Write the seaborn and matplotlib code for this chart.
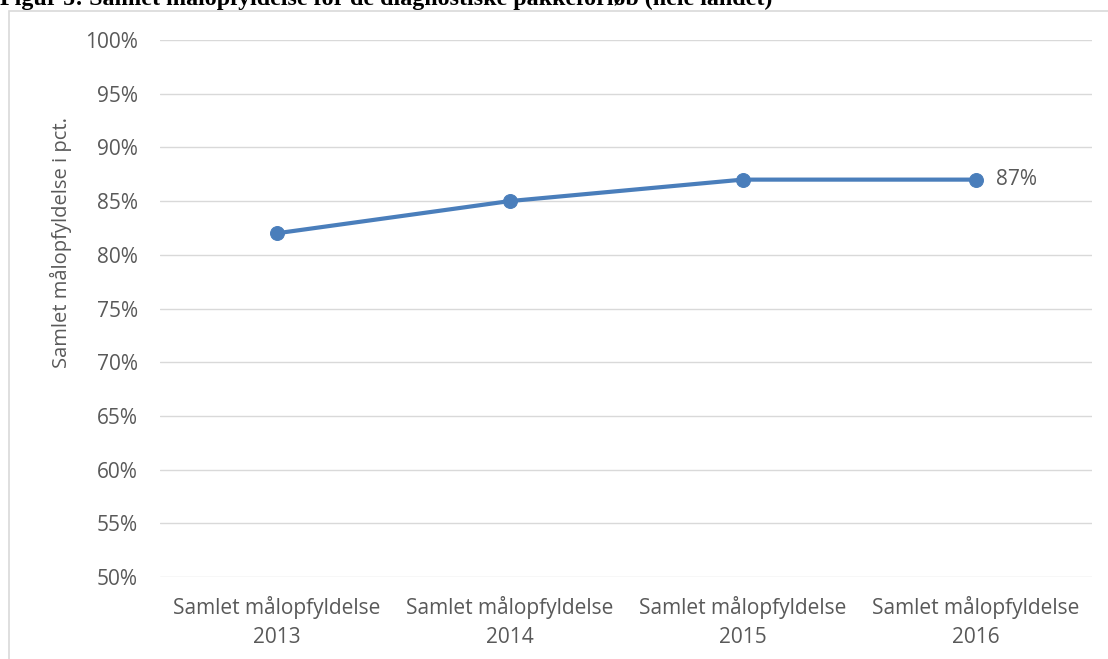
import matplotlib
matplotlib.use("Agg")
import pandas as pd
import seaborn as sns
import matplotlib.pyplot as plt
from matplotlib.patches import Rectangle
from matplotlib.ticker import FuncFormatter

# Data
years = ["2013", "2014", "2015", "2016"]
labels = ["Samlet målopfyldelse\n" + y for y in years]
values = [82, 85, 87, 87]

df = pd.DataFrame({"kategori": labels, "pct": values})

sns.set_theme(style="white")
plt.rcParams["font.family"] = ["Open Sans", "DejaVu Sans"]

grey = "#595959"
blue = "#4a7ebb"

fig = plt.figure(figsize=(11.08, 6.59), dpi=100)
ax = fig.add_axes([0.1444, 0.1244, 0.8412, 0.8149])

sns.lineplot(data=df, x="kategori", y="pct", ax=ax, color=blue, linewidth=3,
             marker="o", markersize=10, markeredgecolor=blue, sort=False)

ax.set_ylim(50, 100)
ax.set_xlim(-0.5, len(labels) - 0.5)
ax.set_yticks(range(50, 101, 5))
ax.yaxis.set_major_formatter(FuncFormatter(lambda v, p: f"{v:.0f}%"))
ax.grid(axis="y", color="#d9d9d9", linewidth=1)
ax.set_axisbelow(True)
for s in ax.spines.values():
    s.set_visible(False)
ax.tick_params(axis="y", length=0, pad=16, labelsize=15, labelcolor=grey)
ax.tick_params(axis="x", length=0, pad=14, labelsize=15, labelcolor=grey)
for t in ax.get_xticklabels():
    t.set_linespacing(1.45)
ax.set_xlabel("")
ax.set_ylabel("")

# data label on last point
ax.annotate(f"{values[-1]}%", (len(values) - 1, values[-1]), xytext=(15, 0),
            textcoords="offset points", va="center", ha="left",
            fontsize=15, color=grey)

fig.text(61 / 1108, 1 - 243 / 659, "Samlet målopfyldelse i pct.", rotation=90,
         ha="center", va="center", fontsize=14.5, color=grey)

# chart frame
fig.patches.append(Rectangle((9 / 1108, -0.05), 1.2, 1 - 10.5 / 659 + 0.05,
                             transform=fig.transFigure, fill=False,
                             edgecolor="#d9d9d9", linewidth=1.2))

fig.text(0.0, 1 - 5 / 659,
         "Figur 5: Samlet målopfyldelse for de diagnostiske pakkeforløb (hele landet)",
         ha="left", va="baseline", fontsize=17.3, fontweight="bold",
         family="Liberation Serif", color="black")

fig.savefig("out.png", dpi=100)
